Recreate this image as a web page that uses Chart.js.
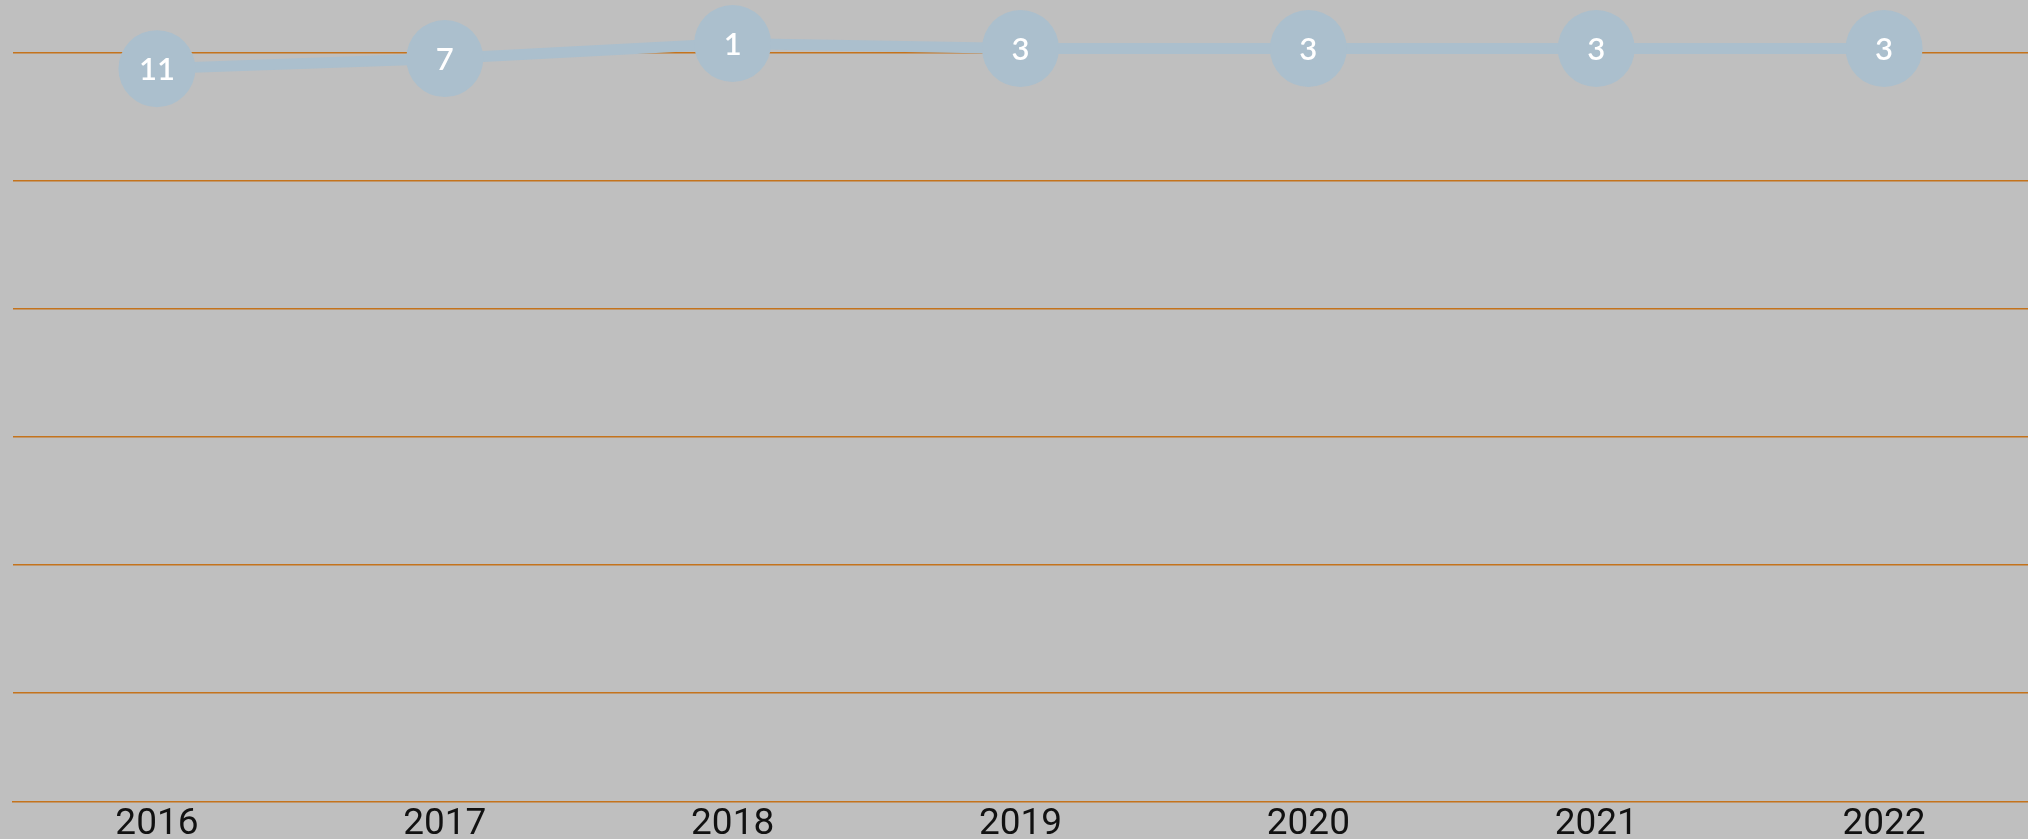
<!DOCTYPE html>
<html>
<head>
<meta charset="utf-8">
<script src="https://cdn.jsdelivr.net/npm/chart.js@4/dist/chart.umd.min.js"></script>
<style>
  html, body { margin: 0; padding: 0; background: #bfbfbf; }
  #wrap { width: 2028px; height: 839px; position: relative; }
  canvas { display: block; }
</style>
</head>
<body>
<div id="wrap"><canvas id="c" width="2028" height="839"></canvas></div>
<script>
// ---- data ----
const categories = ['2016', '2017', '2018', '2019', '2020', '2021', '2022'];
const rankValues = [11, 7, 1, 3, 3, 3, 3];
const gridValues = [4.5, 55.5, 106.5, 157.5, 208.5, 259.5];
const yMin = 0;
const yMax = 303;

// ---- styles ----
const bgColor = '#bfbfbf';
const lineColor = '#abbfcd';
const gridColor = '#c4731c';

const bgPlugin = {
  id: 'bg',
  beforeDraw(chart) {
    const ctx = chart.ctx;
    ctx.save();
    ctx.fillStyle = bgColor;
    ctx.fillRect(0, 0, chart.width, chart.height);
    ctx.restore();
  }
};

const pointLabels = {
  id: 'pointLabels',
  afterDatasetsDraw(chart) {
    const ctx = chart.ctx;
    const meta = chart.getDatasetMeta(0);
    const data = chart.data.datasets[0].data;
    ctx.save();
    ctx.fillStyle = '#ffffff';
    ctx.font = '600 31px Lato, "Noto Sans", sans-serif';
    ctx.textAlign = 'center';
    ctx.textBaseline = 'middle';
    meta.data.forEach((pt, i) => {
      ctx.fillText(String(data[i]), pt.x, pt.y + 1);
    });
    ctx.restore();
  }
};

new Chart(document.getElementById('c'), {
  type: 'line',
  data: {
    labels: categories,
    datasets: [{
      data: rankValues,
      borderColor: lineColor,
      borderWidth: 11,
      backgroundColor: lineColor,
      pointBackgroundColor: lineColor,
      pointBorderWidth: 0,
      pointRadius: 38.5,
      pointHoverRadius: 38.5,
      tension: 0,
      clip: false
    }]
  },
  options: {
    responsive: false,
    animation: false,
    events: [],
    layout: { autoPadding: false, padding: { left: 13, right: -8, top: 41, bottom: -8 } },
    plugins: { legend: { display: false }, tooltip: { enabled: false } },
    scales: {
      x: {
        type: 'category',
        offset: true,
        grid: { display: false, drawTicks: false },
        border: { display: true, color: gridColor, width: 1.5 },
        ticks: {
          color: '#111111',
          padding: 4,
          maxRotation: 0,
          autoSkip: false,
          font: { family: '"Liberation Sans Narrow", "Roboto", sans-serif', size: 37, lineHeight: 1 }
        }
      },
      y: {
        type: 'linear',
        reverse: true,
        min: yMin,
        max: yMax,
        afterBuildTicks(scale) {
          scale.ticks = gridValues.map(v => ({ value: v }));
        },
        grid: { color: gridColor, lineWidth: 1.5, drawTicks: false },
        border: { display: false },
        ticks: { display: false }
      }
    }
  },
  plugins: [bgPlugin, pointLabels]
});
</script>
</body>
</html>
